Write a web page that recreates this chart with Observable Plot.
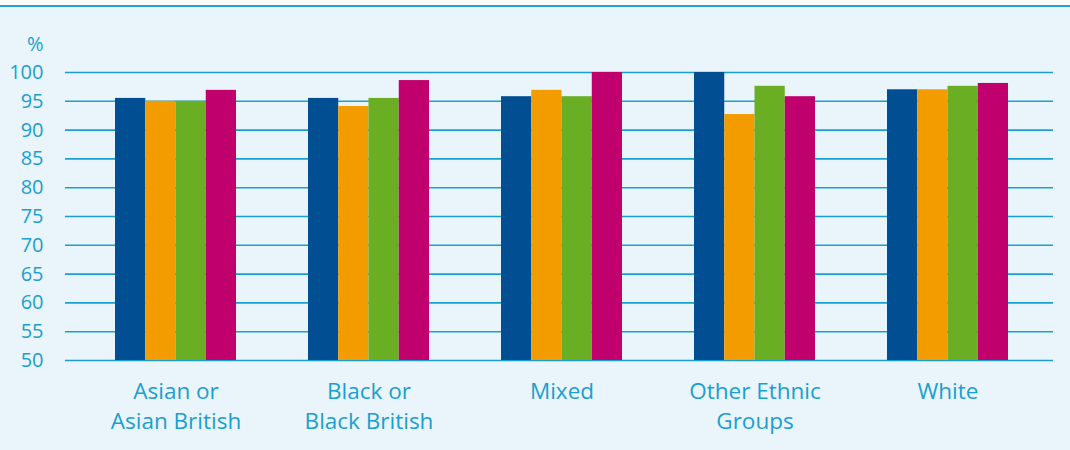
<!DOCTYPE html>
<html>
<head>
<meta charset="utf-8">
<script src="https://cdn.jsdelivr.net/npm/d3@7"></script>
<script src="https://cdn.jsdelivr.net/npm/@observablehq/plot@0.6"></script>
<style>
  html, body { margin: 0; padding: 0; background: #ffffff; }
  #wrap {
    position: absolute; left: 0; top: 5px; width: 1070px; height: 445px;
    background: #E9F5FB; border-top: 2px solid #27A2D0; box-sizing: border-box;
  }
  svg { display: block; }
</style>
</head>
<body>
<div id="wrap"></div>
<script>
// ---- data ----
const categories = ["Asian or\nAsian British", "Black or\nBlack British", "Mixed", "Other Ethnic\nGroups", "White"];
const seriesNames = ["Series 1", "Series 2", "Series 3", "Series 4"];
const series1 = [95.5, 95.5, 95.8, 100.0, 97.0];
const series2 = [95.0, 94.1, 96.9, 92.7, 97.0];
const series3 = [95.0, 95.5, 95.8, 97.6, 97.6];
const series4 = [96.9, 98.6, 100.0, 95.8, 98.1];
const seriesValues = [series1, series2, series3, series4];
const seriesColors = ["#024E92", "#F39C00", "#6AAF23", "#BF006D"];
const yTicks = [50, 55, 60, 65, 70, 75, 80, 85, 90, 95, 100];
const yBase = 50;

// ---- layout ----
const width = 1070, height = 443;
const marginLeft = 65, marginRight = 17, marginTop = 65, marginBottom = 90;
const paddingInner = 0.373, paddingOuter = 0.246;
const step = (width - marginLeft - marginRight) / (categories.length - paddingInner + 2 * paddingOuter);
const bandwidth = step * (1 - paddingInner);
const barW = bandwidth / seriesValues.length;

const rows = [];
seriesValues.forEach((vals, i) => vals.forEach((v, j) => rows.push({category: categories[j], series: i, value: v})));

const txt = "#1A9FD0";
const font = "'Open Sans', 'Noto Sans', sans-serif";

const marks = [
  Plot.ruleY(yTicks, {stroke: txt, strokeWidth: 1.6}),
  ...seriesValues.map((_, i) =>
    Plot.barY(rows.filter(r => r.series === i), {
      x: "category", y1: () => yBase, y2: "value", fill: seriesColors[i],
      insetLeft: i * barW, insetRight: (seriesValues.length - 1 - i) * barW
    })
  ),
  Plot.axisY({ticks: yTicks, tickSize: 0, tickPadding: 22, fontSize: 20, label: null}),
  Plot.axisX({tickSize: 0, tickPadding: 18, fontSize: 22.5, label: null, lineHeight: 1.31}),
  Plot.text(["%"], {frameAnchor: "top-left", lineAnchor: "middle", dx: -22, dy: -28, textAnchor: "end", fontSize: 20, fill: txt})
];

const chart = Plot.plot({
  width, height, marginLeft, marginRight, marginTop, marginBottom,
  style: {background: "transparent", color: txt, fontFamily: font, fontSize: "20px"},
  x: {domain: categories, paddingInner, paddingOuter, align: 0.53, axis: null},
  y: {domain: [50, 100], axis: null},
  marks
});
document.getElementById("wrap").appendChild(chart);
</script>
</body>
</html>
